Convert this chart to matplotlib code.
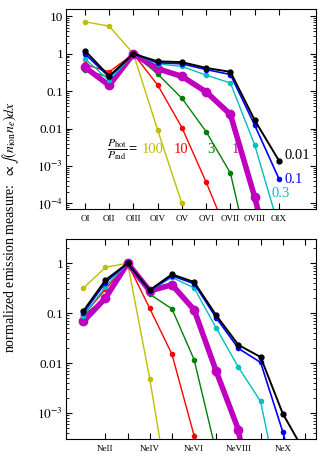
import numpy as np
import matplotlib
matplotlib.use("Agg")
import matplotlib.pyplot as plt
from matplotlib.ticker import FixedLocator, FuncFormatter, LogLocator, NullFormatter

plt.rcParams['font.family'] = ['Liberation Serif', 'DejaVu Serif']
plt.rcParams['mathtext.fontset'] = 'stix'

# ---- data: oxygen (stages I..IX) ----
o_labels = ['OI', 'OII', 'OIII', 'OIV', 'OV', 'OVI', 'OVII', 'OVIII', 'OIX']
o_p100 = [7.2, 5.5, 1.0, 0.0092, 1e-4]
o_p10 = [0.52, 0.33, 1.0, 0.147, 0.0107, 3.7e-4, 1e-5]
o_p3 = [0.36, 0.24, 1.0, 0.29, 0.065, 0.0083, 6.5e-4, 1e-6]
o_p1 = [0.44, 0.144, 1.0, 0.40, 0.25, 0.096, 0.024, 1.5e-4, 4e-7]
o_p03 = [0.74, 0.195, 1.0, 0.54, 0.46, 0.27, 0.166, 0.0037, 2.3e-5]
o_p01 = [1.0, 0.24, 1.0, 0.58, 0.54, 0.38, 0.28, 0.0125, 4.6e-4]
o_p001 = [1.22, 0.255, 1.0, 0.63, 0.60, 0.42, 0.33, 0.017, 1.4e-3]

# ---- data: neon (stages I..XI) ----
ne_ticklabels = ['NeII', 'NeIV', 'NeVI', 'NeVIII', 'NeX']
ne_p100 = [0.316, 0.83, 1.0, 4.8e-3, 1e-5]
ne_p10 = [0.09, 0.30, 1.0, 0.124, 0.015, 3.5e-4, 1e-6]
ne_p3 = [0.09, 0.20, 1.0, 0.24, 0.122, 0.0117, 1.6e-4]
ne_p1 = [0.068, 0.20, 1.0, 0.28, 0.37, 0.117, 6.8e-3, 4.6e-4, 1e-6]
ne_p03 = [0.088, 0.34, 1.0, 0.28, 0.52, 0.32, 0.05, 8.2e-3, 1.7e-3, 1.2e-5]
ne_p01 = [0.10, 0.41, 1.0, 0.28, 0.56, 0.39, 0.08, 0.0196, 0.0103, 4.2e-4, 1e-5]
ne_p001 = [0.11, 0.46, 1.0, 0.29, 0.60, 0.42, 0.09, 0.023, 0.0132, 9.7e-4, 1.6e-4]

ratio_labels = ['100', '10', '3', '1', '0.3', '0.1', '0.01']
colors = [(0.75, 0.75, 0), 'red', (0, 0.5, 0), (0.75, 0, 0.75), (0, 0.75, 0.75), 'blue', 'black']
lws = [1.0, 1.0, 1.0, 4.0, 1.0, 1.2, 1.4]
mss = [3, 3, 3, 6, 3, 3, 3.5]

o_series = [o_p100, o_p10, o_p3, o_p1, o_p03, o_p01, o_p001]
ne_series = [ne_p100, ne_p10, ne_p3, ne_p1, ne_p03, ne_p01, ne_p001]

fig = plt.figure(figsize=(3.29, 4.63), dpi=100)
ax1 = fig.add_axes([0.2006, 0.548, 0.7599, 0.433])
ax2 = fig.add_axes([0.2006, 0.0518, 0.7599, 0.432])


def yfmt(v, pos):
    e = int(round(np.log10(v)))
    if e == 1:
        return '10'
    if e == 0:
        return '1'
    if e == -1:
        return '0.1'
    if e == -2:
        return '0.01'
    return r'$10^{%d}$' % e


for ax, series in ((ax1, o_series), (ax2, ne_series)):
    for vals, c, lw, ms in zip(series, colors, lws, mss):
        x = np.arange(1, len(vals) + 1)
        ax.plot(x, vals, '-o', color=c, lw=lw, ms=ms, mec=c, clip_on=True)
    ax.set_yscale('log')
    ax.yaxis.set_major_locator(LogLocator(base=10, numticks=20))
    ax.yaxis.set_minor_locator(LogLocator(base=10, subs=np.arange(2, 10), numticks=20))
    ax.yaxis.set_major_formatter(FuncFormatter(yfmt))
    ax.yaxis.set_minor_formatter(NullFormatter())
    ax.tick_params(which='both', direction='in', top=True, right=True)
    ax.tick_params(which='major', length=4, width=0.8)
    ax.tick_params(which='minor', length=2, width=0.6)
    ax.tick_params(axis='y', labelsize=9.5, pad=2)
    ax.tick_params(axis='x', labelsize=6.5, pad=4)

ax1.set_xlim(0.22, 10.53)
ax1.set_ylim(7e-5, 16)
ax1.xaxis.set_major_locator(FixedLocator(np.arange(1, len(o_labels) + 1)))
ax1.set_xticklabels(o_labels)

ax2.set_xlim(0.22, 11.5)
ax2.set_ylim(3e-4, 3.06)
ax2.xaxis.set_major_locator(FixedLocator(np.arange(2, 12, 2)))
ax2.xaxis.set_minor_locator(FixedLocator(np.arange(3, 12, 2)))
ax2.set_xticklabels(ne_ticklabels)
ax2.tick_params(axis='x', which='minor', length=4, width=0.8)

# annotations in the top panel
ax1.text(3.2, 2.7e-3, r'$\dfrac{P_{\rm hot}}{P_{\rm rad}} =$', ha='right', va='center', fontsize=8.5)
for xs, lab, c in zip([3.78, 4.98, 6.2, 7.19], ratio_labels[:4], colors[:4]):
    ax1.text(xs, 2.7e-3, lab, ha='center', va='center', fontsize=10.5, color=c)
ax1.text(9.22, 1.9e-3, ratio_labels[6], ha='left', va='center', fontsize=10.5, color=colors[6])
ax1.text(9.22, 4.5e-4, ratio_labels[5], ha='left', va='center', fontsize=10.5, color=colors[5])
ax1.text(8.68, 1.9e-4, ratio_labels[4], ha='left', va='center', fontsize=10.5, color=colors[4])

fig.text(0.032, 0.51, r'normalized emission measure:  $\propto \int (n_{\rm ion} n_e) dx$',
         rotation=90, ha='center', va='center', fontsize=10)

fig.savefig('out.png', dpi=100)
